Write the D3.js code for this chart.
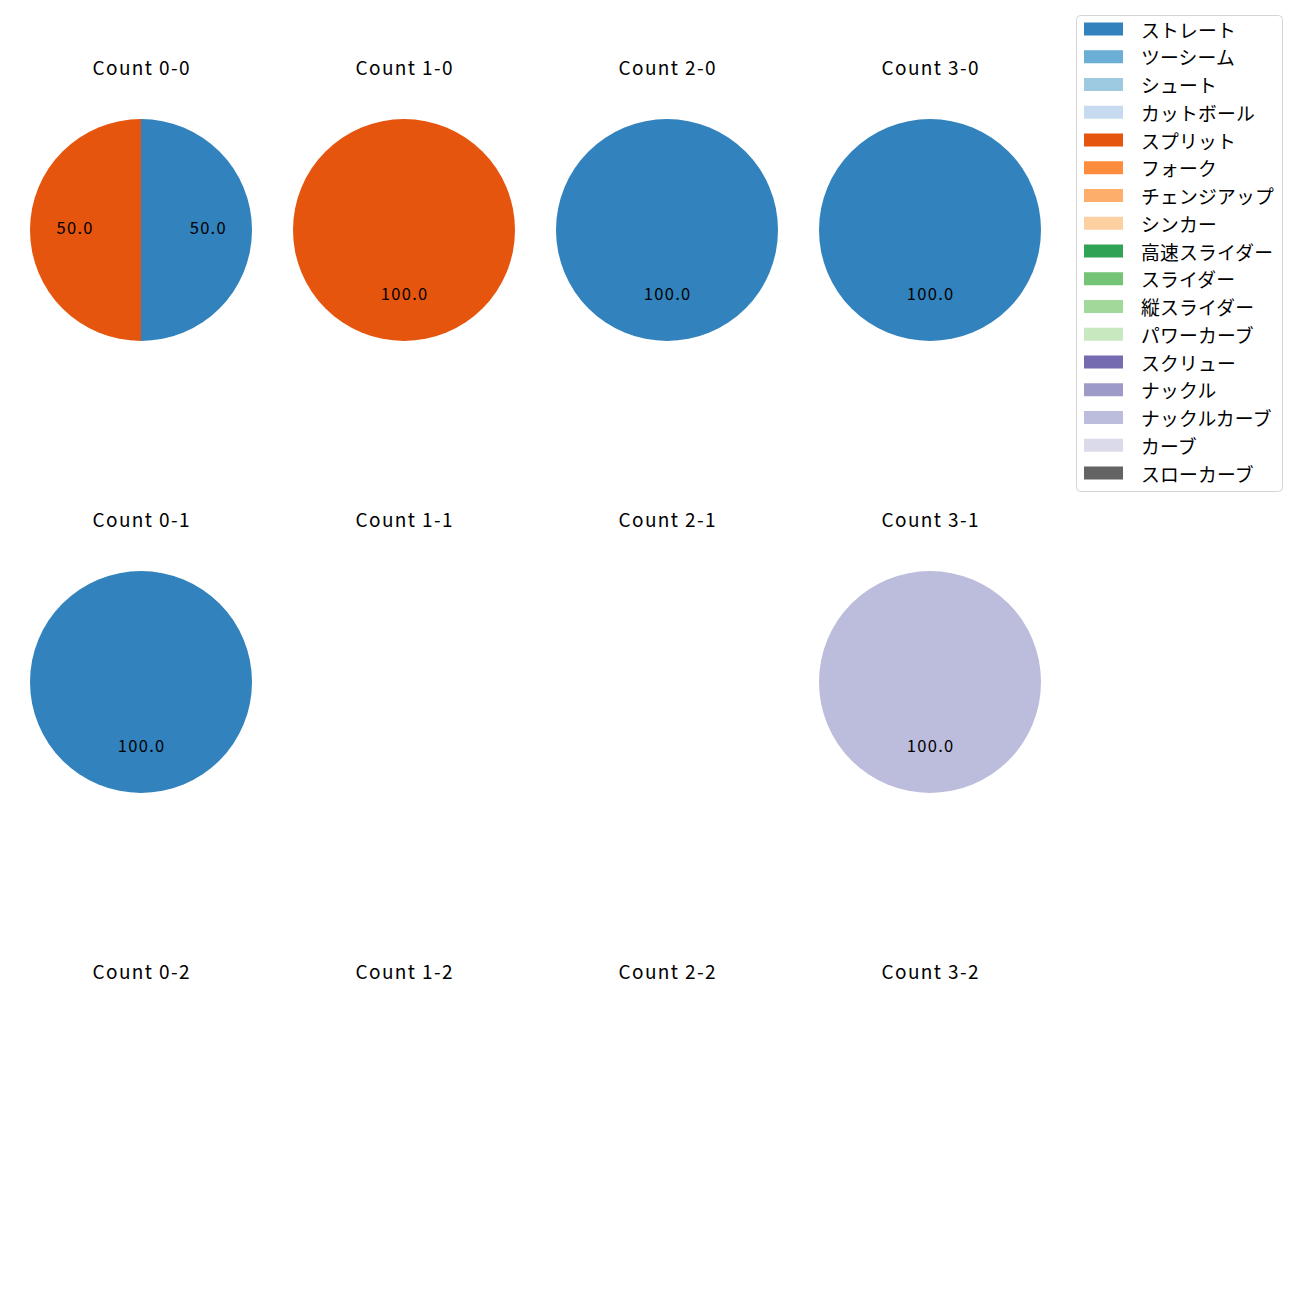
<!DOCTYPE html>
<html><head><meta charset="utf-8">
<script src="https://cdn.jsdelivr.net/npm/d3@7"></script>
<style>body{margin:0;background:#fff}svg{display:block;font-family:"Noto Sans CJK JP","Noto Sans",sans-serif}</style>
</head><body>
<script>
const pitchTypes = ["ストレート","ツーシーム","シュート","カットボール","スプリット","フォーク","チェンジアップ","シンカー","高速スライダー","スライダー","縦スライダー","パワーカーブ","スクリュー","ナックル","ナックルカーブ","カーブ","スローカーブ"];
const colors = ["#3182bd","#6baed6","#9ecae1","#c6dbef","#e6550d","#fd8d3c","#fdae6b","#fdd0a2","#31a354","#74c476","#a1d99b","#c7e9c0","#756bb1","#9e9ac8","#bcbddc","#dadaeb","#636363"];
const counts = ["0-0","1-0","2-0","3-0","0-1","1-1","2-1","3-1","0-2","1-2","2-2","3-2"];
// pitch counts per count: index aligned to pitchTypes
const countValues = {
  "0-0": [1,0,0,0,1,0,0,0,0,0,0,0,0,0,0,0,0],
  "1-0": [0,0,0,0,1,0,0,0,0,0,0,0,0,0,0,0,0],
  "2-0": [1,0,0,0,0,0,0,0,0,0,0,0,0,0,0,0,0],
  "3-0": [1,0,0,0,0,0,0,0,0,0,0,0,0,0,0,0,0],
  "0-1": [1,0,0,0,0,0,0,0,0,0,0,0,0,0,0,0,0],
  "1-1": [0,0,0,0,0,0,0,0,0,0,0,0,0,0,0,0,0],
  "2-1": [0,0,0,0,0,0,0,0,0,0,0,0,0,0,0,0,0],
  "3-1": [0,0,0,0,0,0,0,0,0,0,0,0,0,0,1,0,0],
  "0-2": [0,0,0,0,0,0,0,0,0,0,0,0,0,0,0,0,0],
  "1-2": [0,0,0,0,0,0,0,0,0,0,0,0,0,0,0,0,0],
  "2-2": [0,0,0,0,0,0,0,0,0,0,0,0,0,0,0,0,0],
  "3-2": [0,0,0,0,0,0,0,0,0,0,0,0,0,0,0,0,0]
};

const W = 1300, H = 1300;
const svg = d3.select("body").append("svg").attr("width", W).attr("height", H);
const color = d3.scaleOrdinal().domain(pitchTypes).range(colors);
const colX = d3.scalePoint().domain([0,1,2,3]).range([141, 930]);
const rowY = d3.scalePoint().domain([0,1,2]).range([230, 1134]);
const R = 111;
const pie = d3.pie().sort(null).value(d => d.v);
const arc = d3.arc().innerRadius(0).outerRadius(R);
const labelArc = d3.arc().innerRadius(R*0.6).outerRadius(R*0.6);

counts.forEach((c, i) => {
  const col = i % 4, row = Math.floor(i / 4);
  const cx = colX(col), cy = rowY(row);
  const g = svg.append("g").attr("transform", `translate(${cx},${cy})`);
  g.append("text").attr("x", 0.7).attr("y", -163.5).attr("text-anchor","middle")
    .attr("dominant-baseline","central")
    .attr("font-size", 19).attr("letter-spacing", 1.4).attr("fill","#000").text("Count " + c);
  const data = pitchTypes.map((p, k) => ({p, v: countValues[c][k]})).filter(d => d.v > 0);
  const total = d3.sum(data, d => d.v);
  if (total === 0) return;
  const arcs = pie(data);
  g.selectAll("path.w").data(arcs).join("path").attr("class","w")
    .attr("d", arc).attr("fill", d => color(d.data.p));
  g.selectAll("text.l").data(arcs).join("text").attr("class","l")
    .attr("transform", d => { const [x, y] = labelArc.centroid(d); return `translate(${x + 0.7},${y - 3.5})`; })
    .attr("text-anchor","middle").attr("dominant-baseline","central")
    .attr("font-size", 16.5).attr("letter-spacing", 1.3).attr("fill","#000")
    .text(d => (d.data.v / total * 100).toFixed(1));
});

// legend
const lg = svg.append("g");
lg.append("rect").attr("x", 1076.5).attr("y", 15.5).attr("width", 206).attr("height", 476)
  .attr("rx", 4).attr("fill","#fff").attr("stroke","#d5d5d5").attr("stroke-width",1);
const ly = d3.scalePoint().domain(pitchTypes).range([29, 473]);
pitchTypes.forEach(p => {
  lg.append("rect").attr("x", 1084).attr("y", ly(p) - 6.5).attr("width", 39).attr("height", 13).attr("fill", color(p));
  lg.append("text").attr("x", 1141).attr("y", ly(p)).attr("dominant-baseline","central")
    .attr("font-size", 18.8).attr("letter-spacing", 0.2).attr("fill","#000").text(p);
});
</script>
</body></html>
